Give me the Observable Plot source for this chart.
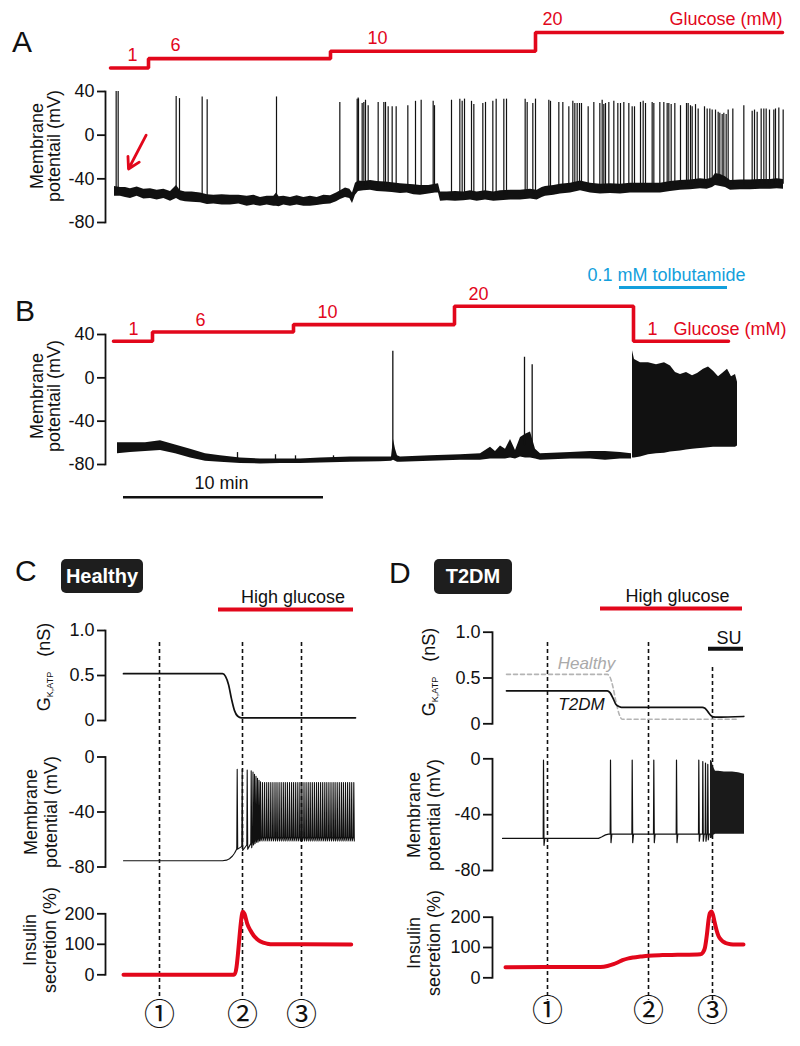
<!DOCTYPE html>
<html><head><meta charset="utf-8">
<script src="https://cdn.jsdelivr.net/npm/d3@7"></script>
<script src="https://cdn.jsdelivr.net/npm/@observablehq/plot@0.6"></script>
<style>
body{margin:0;background:#fff}
#fig{position:relative;width:800px;height:1046px;font-family:"Liberation Sans",Arial,Helvetica,sans-serif;color:#111;overflow:hidden}
#fig svg{position:absolute;left:0;top:0;overflow:visible}
.lab{position:absolute;white-space:nowrap}
.vlab{position:absolute;white-space:nowrap;text-align:center;transform:translate(-50%,-50%) rotate(-90deg);font-size:18px}
.vlab sub{font-size:9px;vertical-align:-3px;line-height:0}
.badge{position:absolute;background:#1e1e1e;color:#fff;font-weight:bold;font-size:20px;border-radius:5px;display:flex;align-items:center;justify-content:center}
</style></head><body><div id="fig"></div><script>
// ================= DATA =================
// Panel A (time in s)
const glucoseTimesA = [0, 114, 660, 1275, 2016];
const glucoseLevelsA = [1, 6, 10, 20, 20];
const glucoseLabelTimesA = [66, 195, 801, 1326];
const glucoseLabelLevelsA = [1, 6, 10, 20];
// baseline band: [t, low mV, high mV]
const baselineA = [[12,-56,-47],[30,-56,-48],[45,-57,-48],[60,-58,-49],[80,-56,-47.5],[100,-58.5,-49.5],[120,-58,-49],[140,-59.5,-50.5],[160,-58,-49.5],[180,-60.5,-51.5],[198,-58,-46],[210,-60,-51],[225,-61,-52],[245,-61.5,-52],[270,-62,-53],[291,-63.5,-54.5],[310,-63,-55],[335,-64,-54.5],[360,-64,-55],[385,-63,-55],[410,-65,-56],[430,-64,-55],[450,-65,-57],[470,-64,-56],[490,-65,-56],[498,-65,-53],[506,-65.5,-56.5],[520,-64,-56],[540,-65,-57],[560,-64,-55.5],[580,-65,-57],[600,-65,-56],[620,-64.5,-57],[640,-63.5,-55],[660,-63,-55.5],[678,-61,-53],[690,-59,-51],[705,-57,-48.5],[718,-58,-49.5],[726,-62.5,-53],[735,-55,-44],[744,-51.5,-42],[760,-51,-42.5],[780,-50.5,-41.5],[800,-51.5,-42.5],[825,-52,-43],[845,-52.5,-43.5],[870,-53.5,-44.5],[890,-53,-45],[910,-54.5,-45.5],[930,-55,-46],[955,-54,-46],[975,-53,-45],[984,-53,-44.5],[990,-60.5,-52],[1010,-60,-52],[1035,-60.5,-51.5],[1060,-60,-52],[1080,-59.5,-51],[1100,-60.5,-52],[1125,-59.5,-51],[1150,-60.5,-52],[1170,-60,-51],[1200,-59.5,-50.5],[1230,-59.5,-50.5],[1260,-58.5,-49.5],[1280,-59.5,-50.5],[1295,-57,-48],[1305,-56,-47],[1330,-55,-46],[1350,-54,-45],[1380,-53,-44],[1410,-51,-42],[1440,-53,-44],[1470,-54,-45],[1500,-53.5,-44.5],[1530,-54,-45],[1560,-53,-44],[1590,-53,-44],[1620,-53,-44],[1650,-53,-44],[1680,-51.5,-42.5],[1710,-50.5,-41.5],[1740,-50,-41],[1770,-49,-40],[1790,-49.5,-40.5],[1806,-48,-39],[1815,-46,-35],[1830,-47,-36],[1845,-48,-38],[1860,-50.5,-41.5],[1890,-50,-41],[1920,-50,-41],[1950,-49.5,-40.5],[1980,-49.5,-40.5],[2000,-49,-40],[2019,-49.5,-40.5]];
const spikeTimesA = [17,23,197,207,275,290,498,688,740,743,744,755,760,765,773,803,820,825,833,845,857,892,915,932,968,972,1023,1048,1055,1062,1083,1090,1117,1125,1147,1157,1180,1188,1244,1250,1267,1275,1315,1320,1345,1357,1375,1387,1393,1400,1407,1413,1433,1450,1468,1475,1480,1485,1495,1510,1522,1530,1540,1555,1565,1572,1590,1598,1605,1625,1630,1648,1660,1670,1675,1682,1693,1710,1728,1733,1740,1745,1755,1763,1782,1790,1798,1805,1815,1823,1828,1835,1840,1847,1853,1867,1900,1925,1932,1940,1952,1960,1967,1977,1990,1995,2005,2018];
const spikePeaksA = [40,40,35.5,33.5,35,32.5,35,30,33,34,33,29,30,32,27,30,30,30,26,26,26,27,31,32,31,27,32,33,31,33,31,28,29,30,31,33,33,33,33,30,29,33,32,31,30,30,26,31,29,29,29,29,26,30,29,32,28,29,30,31,29,29,30,29,26,26,30,31,29,30,29,30,30,29,29,28,29,27,29,29,27,26,28,24,26,24,24,23,23,21,20,19,20,19,23,24,27,22,23,21,24,24,24,23,23,24,25,23];
const arrowA = [{t1: 107, v1: 0, t2: 54, v2: -31}];

// Panel B (time in s)
const glucoseTimesB = [0, 117, 540, 1023, 1560, 1845];
const glucoseLevelsB = [1, 6, 10, 20, 1, 1];
const glucoseLabelTimesB = [60, 261, 642, 1095, 1617];
const glucoseLabelLevelsB = [1, 6, 10, 20, 1];
const glucoseUnitB = [{t: 1680, g: 1}];
const baselineB = [[12,-70,-60],[51,-69,-60],[96,-68,-60],[141,-67,-58],[186,-70,-62],[231,-74,-66],[276,-77,-70],[321,-78,-72],[381,-79,-74],[441,-79.5,-75],[501,-79,-75],[561,-79,-75],[621,-78.5,-74],[711,-78,-73],[801,-77.5,-73],[834,-77,-73],[840,-76,-57],[846,-77,-66],[852,-78,-72],[861,-78,-73],[951,-77,-72],[1041,-76,-71],[1101,-76,-70],[1131,-75,-64],[1146,-75,-68],[1161,-75,-63],[1176,-75,-66],[1191,-74,-57],[1206,-75,-67],[1221,-73,-55],[1236,-74,-52],[1251,-74,-50],[1266,-75,-66],[1281,-76,-70],[1371,-75,-69],[1431,-75,-68],[1476,-76,-68],[1521,-75,-69],[1554,-75,-70]];
const spikesB = [[372,-69],[486,-71],[546,-72],[660,-72],[838,24.5],[1233,19],[1256,12]];
const burstBlockB = [[1557,-74,25],[1563,-74,17],[1581,-73,14],[1605,-71,14],[1629,-70,12],[1653,-69.5,14],[1671,-68.5,11],[1686,-68,5],[1701,-67.5,3],[1719,-66.5,5],[1737,-66,2],[1752,-65.5,4],[1770,-65,8],[1785,-64.5,10],[1800,-64,6],[1815,-64,1],[1827,-64,4],[1842,-64,8],[1854,-64,1],[1866,-64,3],[1872,-63,-4]];
const tolbutamideB = [{start: 1518, end: 1842, label: "0.1 mM tolbutamide"}];
const scaleBarB = [{start: 30, end: 630, label: "10 min"}];

// Panel C (model time)
const highGlucoseC = [{start: 95, end: 230, label: "High glucose"}];
const markersC = [36, 119, 178];
const gkC = [[0,.52],[99,.52],[102,.49],[105,.40],[108,.24],[111,.11],[114,.05],[118,.03],[232,.03]];
const membraneBaseC = [[0,-75.5],[99,-75.5],[103,-75],[106,-74],[109,-72],[111,-70],[113.2,-67]];
const burstSpikesC = [[113.7,-9,-67],[118.7,-9,-68],[123.7,-9.5,-67],[127.7,-10,-66],[129.5,-11,-64],[131,-12.5,-63],[132.5,-14,-62],[134,-15.5,-62],[135.5,-17,-61],[137,-18,-61]];
const tonicSpikeTimesC = [139,141.1,143.2,145.2,147.3,149.4,151.5,153.5,155.6,157.7,159.8,161.8,163.9,166,168.1,170.1,172.2,174.3,176.4,178.4,180.5,182.6,184.7,186.7,188.8,190.9,193,195,197.1,199.2,201.3,203.3,205.4,207.5,209.6,211.6,213.7,215.8,217.9,219.9,222,224.1,226.2,228.2,230.3];
const tonicPeakC = -18.5, tonicTroughC = -61;
const insulinC = [[0,0],[109,0],[111,2],[113,25],[114.5,70],[116,125],[117.5,175],[119.3,207],[121,200],[123.7,168],[127,145],[130.3,128],[134,116],[137,109],[143.7,102],[150,100],[160,100],[227.7,99]];

// Panel D (model time)
const highGlucoseD = [{start: 98, end: 240, label: "High glucose"}];
const suD = [{start: 206, end: 241, label: "SU"}];
const markersD = [45, 146, 210];
const gkT2dmD = [[4,.36],[104.7,.36],[107.5,.34],[110.5,.28],[113.5,.21],[116.3,.19],[119,.18],[199.7,.18],[202.5,.17],[205.5,.13],[208.5,.09],[211,.075],[214,.072],[241.3,.08]];
const gkHealthyD = [[4,.54],[104.7,.54],[107.5,.51],[110.5,.40],[113.5,.24],[116.5,.11],[119.7,.05],[234.7,.05]];
const gkLabelHealthyD = [{t: 84, v: .54, label: "Healthy"}];
const gkLabelT2dmD = [{t: 79, v: .36, label: "T2DM"}];
const membraneBaseD = [[0,-57],[96,-57],[99,-56],[103,-54.5],[106,-54],[208,-54]];
const spikesD = [[41,-1,-62],[108,-1,-60],[129.7,-1,-60],[151.3,-1,-60],[174,-1,-60],[196.3,-1,-59],[200.3,-2,-59],[203,-3,-59],[205.3,-4,-58]];
const burstBlockD = [[208,-57,-1],[209.5,-57,-2],[211,-55,-6],[213,-54,-9],[216,-54,-9],[222,-54,-9.5],[230,-54,-9.5],[236,-54,-10],[242,-54,-11]];
const insulinD = [[3,35],[98,36],[105,39],[111,45],[116,52],[120,58],[126,64],[131,67],[138,70],[146,73],[160,75],[175,76],[198,78],[200.5,84],[202.5,100],[204.5,145],[206,190],[207.5,214],[209,219],[210.5,208],[212,185],[214,158],[216,138],[219,124],[223,115],[228,111],[233,110],[241,110]];
const circledLabels = ["\u2460", "\u2461", "\u2462"];

// ================= DRAWING =================
const RED = "#e2071b", BLUE = "#139fdc", INK = "#111", GREY = "#b4b4b4";
const W = 800, H = 1046;
const fig = document.getElementById("fig");
const FONT = "'Liberation Sans',Arial,Helvetica,sans-serif";
const CIRC = "'Noto Sans CJK JP','DejaVu Sans',sans-serif";

function add(opts) {
  const svg = Plot.plot({
    width: W, height: H,
    marginTop: 0, marginBottom: 0, marginLeft: 0, marginRight: 0,
    style: `background:none;overflow:visible;font-family:${FONT};font-size:18px;color:${INK};max-width:none;`,
    ...opts
  });
  fig.append(svg);
}
function interp(rows, t, f) {
  for (let i = 1; i < rows.length; i++) {
    if (t <= rows[i][0]) {
      const t0 = rows[i - 1][0], t1 = rows[i][0], a = (t - t0) / (t1 - t0);
      return f(rows[i - 1]) * (1 - a) + f(rows[i]) * a;
    }
  }
  return f(rows[rows.length - 1]);
}
const mid = r => (r[1] + r[2]) / 2;
const zip = (ts, vs, k1, k2) => ts.map((t, i) => ({[k1]: t, [k2]: vs[i]}));

function axesPlot({spineX, top, bottom, yDomain, ticks, fmt, xDomain, xRange, marks, tickSize = 8}) {
  add({
    marginLeft: spineX, marginRight: 10, marginTop: top, marginBottom: H - bottom,
    x: {domain: xDomain, range: xRange, axis: null},
    y: {domain: yDomain, range: [bottom, top]},
    marks: [
      Plot.frame({anchor: "left", stroke: INK, strokeWidth: 1.8}),
      Plot.axisY({ticks, tickFormat: fmt, tickSize, tickPadding: 3, label: null, strokeWidth: 1.8, fontSize: 18}),
      ...marks
    ]
  });
}
function barPlot({xDomain, xRange, y, data, stroke, strokeWidth, fill, dx, dy}) {
  add({
    x: {domain: xDomain, range: xRange, axis: null},
    y: {domain: [0, 1], range: [y, y - 10], axis: null},
    marks: [
      Plot.ruleY(data, {x1: "start", x2: "end", y: 0, stroke, strokeWidth}),
      Plot.text(data, {x: d => (d.start + d.end) / 2, y: 0, text: "label", dx, dy, fill, fontSize: 18})
    ]
  });
}
const fmtInt = d => String(d);
const fmtG = d => d === 0 ? "0" : d.toFixed(1);

// ---------- Panel A ----------
const xA = {xDomain: [0, 2019], xRange: [110, 783]};
add({
  x: {domain: xA.xDomain, range: xA.xRange, axis: null},
  y: {domain: [1, 20], range: [67.5, 32], axis: null},
  marks: [
    Plot.line(zip(glucoseTimesA, glucoseLevelsA, "t", "g"), {x: "t", y: "g", curve: "step-after", stroke: RED, strokeWidth: 3.6, strokeLinejoin: "miter"}),
    Plot.text(zip(glucoseLabelTimesA, glucoseLabelLevelsA, "t", "g"), {x: "t", y: "g", text: d => String(d.g), dy: -13, fill: RED, fontSize: 18}),
    Plot.text([{t: glucoseTimesA[glucoseTimesA.length - 1], g: glucoseLevelsA[glucoseLevelsA.length - 1]}], {x: "t", y: "g", text: () => "Glucose (mM)", textAnchor: "end", dy: -13, fill: RED, fontSize: 18})
  ]
});
const spikesAData = spikeTimesA.map((t, i) => ({t, peak: spikePeaksA[i], base: interp(baselineA, t, mid)}));
axesPlot({
  spineX: 105, top: 91, bottom: 222, yDomain: [-80, 40], ticks: [40, 0, -40, -80], fmt: fmtInt, ...xA,
  marks: [
    Plot.areaY(baselineA, {x: d => d[0], y1: d => d[1], y2: d => d[2], fill: INK}),
    Plot.ruleX(spikesAData, {x: "t", y1: "base", y2: "peak", stroke: INK, strokeWidth: 1.2}),
    Plot.arrow(arrowA, {x1: "t1", y1: "v1", x2: "t2", y2: "v2", stroke: RED, strokeWidth: 2.8, headLength: 14})
  ]
});

// ---------- Panel B ----------
const xB = {xDomain: [0, 1872], xRange: [113, 737]};
add({
  x: {domain: xB.xDomain, range: xB.xRange, axis: null},
  y: {domain: [1, 20], range: [340.7, 305.7], axis: null},
  marks: [
    Plot.line(zip(glucoseTimesB, glucoseLevelsB, "t", "g"), {x: "t", y: "g", curve: "step-after", stroke: RED, strokeWidth: 3.6, strokeLinejoin: "miter"}),
    Plot.text(zip(glucoseLabelTimesB, glucoseLabelLevelsB, "t", "g"), {x: "t", y: "g", text: d => String(d.g), dy: -12, fill: RED, fontSize: 18}),
    Plot.text(glucoseUnitB, {x: "t", y: "g", text: () => "Glucose (mM)", textAnchor: "start", dy: -12, fill: RED, fontSize: 18})
  ]
});
barPlot({...xB, y: 287, data: tolbutamideB, stroke: BLUE, strokeWidth: 3, fill: BLUE, dx: -7, dy: -12});
const spikesBData = spikesB.map(([t, peak]) => ({t, peak, base: interp(baselineB, t, mid)}));
axesPlot({
  spineX: 105, top: 334, bottom: 464, yDomain: [-80, 40], ticks: [40, 0, -40, -80], fmt: fmtInt, ...xB,
  marks: [
    Plot.areaY(baselineB, {x: d => d[0], y1: d => d[1], y2: d => d[2], fill: INK}),
    Plot.ruleX(spikesBData, {x: "t", y1: "base", y2: "peak", stroke: INK, strokeWidth: 1.3}),
    Plot.areaY(burstBlockB, {x: d => d[0], y1: d => d[1], y2: d => d[2], fill: INK})
  ]
});
barPlot({...xB, y: 496.7, data: scaleBarB, stroke: INK, strokeWidth: 2.5, fill: INK, dx: -2, dy: -14});

// ---------- Panel C ----------
const xC = {xDomain: [0, 232], xRange: [123, 355]};
add({
  marginTop: 642, marginBottom: H - 1000, marginLeft: 110, marginRight: 10,
  x: {domain: xC.xDomain, range: xC.xRange, axis: null},
  marks: [
    Plot.ruleX(markersC, {x: d => d, stroke: INK, strokeWidth: 1.6, strokeDasharray: "4,3"}),
    Plot.text(markersC, {x: d => d, text: (d, i) => circledLabels[i], frameAnchor: "bottom", dy: 24, fontSize: 31, fontFamily: CIRC, fill: INK})
  ]
});
barPlot({...xC, y: 609, data: highGlucoseC, stroke: RED, strokeWidth: 3.8, fill: INK, dx: 7, dy: -12});
axesPlot({
  spineX: 105, top: 630, bottom: 720, yDomain: [0, 1], ticks: [0, 0.5, 1], fmt: fmtG, ...xC,
  marks: [Plot.line(gkC, {x: d => d[0], y: d => d[1], stroke: INK, strokeWidth: 1.7, curve: "monotone-x"})]
});
const memC = [...membraneBaseC];
for (const [t, p, tr] of burstSpikesC) memC.push([t - 0.4, tr + 3], [t, p], [t + 0.5, tr]);
for (const t of tonicSpikeTimesC) memC.push([t - 0.4, tonicTroughC + 3], [t, tonicPeakC], [t + 0.5, tonicTroughC]);
memC.sort((a, b) => a[0] - b[0]);
axesPlot({
  spineX: 105, top: 756.5, bottom: 866.5, yDomain: [-80, 0], ticks: [0, -40, -80], fmt: fmtInt, ...xC,
  marks: [Plot.line(memC, {x: d => d[0], y: d => d[1], stroke: INK, strokeWidth: 1.1})]
});
axesPlot({
  spineX: 105, top: 913.3, bottom: 974.3, yDomain: [0, 200], ticks: [0, 100, 200], fmt: fmtInt, ...xC,
  marks: [Plot.line(insulinC, {x: d => d[0], y: d => d[1], stroke: RED, strokeWidth: 4, curve: "monotone-x"})]
});

// ---------- Panel D ----------
const xD = {xDomain: [0, 242], xRange: [502, 744]};
add({
  marginTop: 642, marginBottom: H - 1000, marginLeft: 495, marginRight: 10,
  x: {domain: xD.xDomain, range: xD.xRange, axis: null},
  marks: [
    Plot.ruleX(markersD.slice(0, 2), {x: d => d, stroke: INK, strokeWidth: 1.6, strokeDasharray: "4,3"}),
    Plot.ruleX(markersD.slice(2), {x: d => d, stroke: INK, strokeWidth: 1.6, strokeDasharray: "4,3", insetTop: 25}),
    Plot.text(markersD, {x: d => d, text: (d, i) => circledLabels[i], frameAnchor: "bottom", dy: 20, fontSize: 31, fontFamily: CIRC, fill: INK})
  ]
});
barPlot({...xD, y: 608, data: highGlucoseD, stroke: RED, strokeWidth: 3.8, fill: INK, dx: 6, dy: -12});
barPlot({...xD, y: 648.3, data: suD, stroke: INK, strokeWidth: 4, fill: INK, dx: 3, dy: -11});
axesPlot({
  spineX: 492, top: 631.7, bottom: 723.3, yDomain: [0, 1], ticks: [0, 0.5, 1], fmt: fmtG, ...xD, tickSize: 9,
  marks: [
    Plot.line(gkHealthyD, {x: d => d[0], y: d => d[1], stroke: GREY, strokeWidth: 1.6, strokeDasharray: "4,3", curve: "monotone-x"}),
    Plot.line(gkT2dmD, {x: d => d[0], y: d => d[1], stroke: INK, strokeWidth: 1.7, curve: "monotone-x"}),
    Plot.text(gkLabelHealthyD, {x: "t", y: "v", text: "label", dy: -11, fill: "#aaa", fontStyle: "italic", fontSize: 17}),
    Plot.text(gkLabelT2dmD, {x: "t", y: "v", text: "label", dy: 14, fill: INK, fontStyle: "italic", fontSize: 17})
  ]
});
const memD = [...membraneBaseD];
for (const [t, p, tr] of spikesD) {
  const b = interp(membraneBaseD, t, r => r[1]);
  memD.push([t - 0.3, b], [t, p], [t + 0.5, tr], [t + 1.3, b]);
}
memD.sort((a, b) => a[0] - b[0]);
axesPlot({
  spineX: 492, top: 758.3, bottom: 870, yDomain: [-80, 0], ticks: [0, -40, -80], fmt: fmtInt, ...xD, tickSize: 9,
  marks: [
    Plot.line(memD, {x: d => d[0], y: d => d[1], stroke: INK, strokeWidth: 1.2}),
    Plot.areaY(burstBlockD, {x: d => d[0], y1: d => d[1], y2: d => d[2], fill: "#1a1a1a"})
  ]
});
axesPlot({
  spineX: 492, top: 916.7, bottom: 977.3, yDomain: [0, 200], ticks: [0, 100, 200], fmt: fmtInt, ...xD, tickSize: 9,
  marks: [Plot.line(insulinD, {x: d => d[0], y: d => d[1], stroke: RED, strokeWidth: 4, curve: "monotone-x"})]
});

// ---------- HTML labels ----------
function letter(txt, left, baseline) {
  const d = document.createElement("div");
  d.className = "lab"; d.textContent = txt;
  d.style.cssText = `left:${left}px;top:${baseline - 25.4}px;font-size:30px;line-height:30px`;
  fig.append(d);
}
letter("A", 12, 52); letter("B", 15, 321.7); letter("C", 15, 581.7); letter("D", 389, 583);
function badge(txt, left, top, w, h) {
  const d = document.createElement("div");
  d.className = "badge"; d.textContent = txt;
  d.style.cssText = `left:${left}px;top:${top}px;width:${w}px;height:${h}px`;
  fig.append(d);
}
badge("Healthy", 61, 559, 82, 34); badge("T2DM", 434, 559, 78, 35);
function vlab(html, cx, cy, lh) {
  const d = document.createElement("div");
  d.className = "vlab"; d.innerHTML = html;
  d.style.left = cx + "px"; d.style.top = cy + "px"; d.style.lineHeight = lh + "px";
  fig.append(d);
}
vlab("Membrane<br>potentail (mV)", 44.7, 146, 16.5);
vlab("Membrane<br>potentail (mV)", 44.7, 396, 16.5);
vlab("G<sub>K,ATP</sub>&nbsp;&nbsp;&nbsp;(nS)", 43.8, 667, 18);
vlab("Membrane<br>potential (mV)", 40.5, 812, 20);
vlab("Insulin<br>secretion (%)", 39.5, 940, 20);
vlab("G<sub>K,ATP</sub>&nbsp;&nbsp;&nbsp;(nS)", 428.8, 671.5, 18);
vlab("Membrane<br>potential (mV)", 424, 815, 20);
vlab("Insulin<br>secretion (%)", 424, 943, 20);
</script></body></html>
